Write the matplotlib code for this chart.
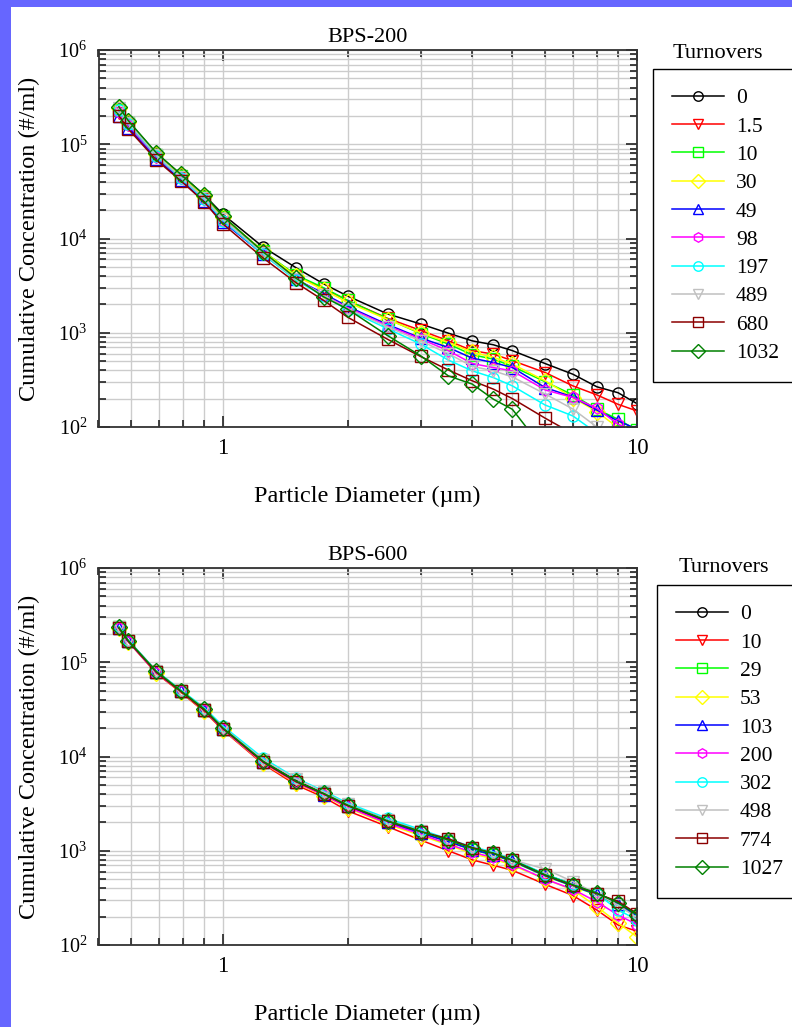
import math
import matplotlib
matplotlib.use("Agg")
import matplotlib.pyplot as plt
from matplotlib.patches import Rectangle
from matplotlib.ticker import LogLocator, FixedLocator, FuncFormatter, NullFormatter

plt.rcParams["font.family"] = ["Liberation Serif", "DejaVu Serif"]
plt.rcParams["mathtext.fontset"] = "custom"
plt.rcParams["mathtext.rm"] = "Liberation Serif"
plt.rcParams["mathtext.it"] = "Liberation Serif:italic"

# Particle size channels (um)
diameters = [0.56, 0.59, 0.69, 0.79, 0.9, 1.0, 1.25, 1.5, 1.75, 2.0, 2.5,
             3.0, 3.5, 4.0, 4.5, 5.0, 6.0, 7.0, 8.0, 9.0, 10.0]

# BPS-200 cumulative concentrations (#/ml) by turnover count
bps200_labels = ["0", "1.5", "10", "30", "49", "98", "197", "489", "680", "1032"]
bps200_t0 = [2.35e5, 1.75e5, 8.0e4, 4.8e4, 2.9e4, 1.8e4, 8.1e3, 4.9e3, 3.3e3, 2.45e3, 1.58e3,
             1.24e3, 990, 820, 745, 646, 471, 363, 267, 231, 177]
bps200_t1_5 = [2.15e5, 1.6e5, 7.3e4, 4.4e4, 2.65e4, 1.62e4, 7.2e3, 4.0e3, 2.95e3, 2.2e3, 1.42e3,
               1.06e3, 822, 646, 593, 506, 378, 273, 219, 174, 148]
bps200_t10 = [2.3e5, 1.68e5, 7.7e4, 4.6e4, 2.75e4, 1.68e4, 7.3e3, 4.1e3, 3.0e3, 2.2e3, 1.4e3,
              980, 760, 583, 525, 440, 302, 219, 154, 121, 92]
bps200_t30 = [2.4e5, 1.72e5, 7.9e4, 4.7e4, 2.8e4, 1.7e4, 7.3e3, 4.0e3, 2.85e3, 2.1e3, 1.38e3,
              1.0e3, 790, 620, 550, 465, 309, 204, 146, 98, 70]
bps200_t49 = [2.0e5, 1.5e5, 7.0e4, 4.2e4, 2.5e4, 1.5e4, 6.8e3, 3.7e3, 2.6e3, 1.9e3, 1.22e3,
              880, 698, 537, 483, 427, 262, 208, 151, 116, 95]
bps200_t98 = [2.2e5, 1.6e5, 7.4e4, 4.4e4, 2.6e4, 1.55e4, 6.9e3, 3.7e3, 2.5e3, 1.85e3, 1.18e3,
              860, 646, 471, 427, 394, 247, 206, 158, 107, 88]
bps200_t197 = [2.3e5, 1.65e5, 7.5e4, 4.4e4, 2.6e4, 1.55e4, 6.8e3, 3.6e3, 2.45e3, 1.75e3, 1.1e3,
               760, 513, 394, 334, 273, 171, 131, 86, 60, 42]
bps200_t489 = [2.4e5, 1.7e5, 7.7e4, 4.5e4, 2.7e4, 1.6e4, 7.0e3, 3.7e3, 2.5e3, 1.8e3, 1.15e3,
               820, 600, 440, 394, 340, 224, 155, 100, 75, 55]
bps200_t680 = [2.0e5, 1.45e5, 6.8e4, 4.1e4, 2.45e4, 1.42e4, 6.2e3, 3.4e3, 2.2e3, 1.46e3, 850,
               560, 403, 309, 252, 200, 124, 85, 62, 45, 33]
bps200_t1032 = [2.5e5, 1.78e5, 8.1e4, 4.8e4, 2.9e4, 1.72e4, 7.2e3, 3.8e3, 2.4e3, 1.78e3, 930,
                570, 349, 285, 197, 154, 55, 35, 25, 18, 12]

# BPS-600 cumulative concentrations (#/ml) by turnover count
bps600_labels = ["0", "10", "29", "53", "103", "200", "302", "498", "774", "1027"]
bps600_t0 = [2.35e5, 1.7e5, 8.0e4, 5.0e4, 3.2e4, 2.0e4, 9.0e3, 5.6e3, 4.1e3, 3.1e3, 2.1e3,
             1.62e3, 1.3e3, 1.08e3, 950, 800, 560, 440, 355, 280, 210]
bps600_t10 = [2.3e5, 1.65e5, 7.6e4, 4.8e4, 3.0e4, 1.9e4, 8.3e3, 5.0e3, 3.7e3, 2.65e3, 1.8e3,
              1.3e3, 1.0e3, 800, 700, 620, 440, 335, 235, 163, 140]
bps600_t29 = [2.35e5, 1.68e5, 7.9e4, 4.95e4, 3.15e4, 1.98e4, 8.8e3, 5.4e3, 4.0e3, 3.0e3, 2.0e3,
              1.55e3, 1.25e3, 1.02e3, 900, 770, 540, 420, 340, 265, 200]
bps600_t53 = [2.3e5, 1.66e5, 7.7e4, 4.85e4, 3.05e4, 1.92e4, 8.5e3, 5.2e3, 3.85e3, 2.85e3, 1.9e3,
              1.45e3, 1.15e3, 930, 820, 700, 500, 385, 255, 171, 122]
bps600_t103 = [2.32e5, 1.67e5, 7.8e4, 4.95e4, 3.1e4, 1.95e4, 8.7e3, 5.4e3, 3.95e3, 2.95e3, 2.0e3,
               1.55e3, 1.25e3, 1.03e3, 910, 780, 545, 425, 345, 270, 205]
bps600_t200 = [2.3e5, 1.66e5, 7.7e4, 4.9e4, 3.1e4, 1.94e4, 8.6e3, 5.3e3, 3.9e3, 2.9e3, 1.95e3,
               1.5e3, 1.18e3, 960, 850, 720, 500, 390, 287, 208, 165]
bps600_t302 = [2.4e5, 1.72e5, 8.1e4, 5.1e4, 3.3e4, 2.1e4, 9.6e3, 5.9e3, 4.3e3, 3.2e3, 2.2e3,
               1.68e3, 1.33e3, 1.1e3, 970, 810, 565, 440, 350, 236, 185]
bps600_t498 = [2.35e5, 1.7e5, 8.0e4, 5.0e4, 3.2e4, 2.02e4, 9.2e3, 5.8e3, 4.2e3, 3.1e3, 2.1e3,
               1.62e3, 1.3e3, 1.07e3, 950, 800, 640, 470, 350, 265, 195]
bps600_t774 = [2.3e5, 1.67e5, 7.8e4, 4.9e4, 3.1e4, 1.97e4, 8.7e3, 5.4e3, 4.0e3, 3.0e3, 2.05e3,
               1.6e3, 1.34e3, 1.08e3, 940, 790, 550, 430, 350, 290, 215]
bps600_t1027 = [2.35e5, 1.7e5, 8.0e4, 5.0e4, 3.2e4, 2.0e4, 8.9e3, 5.5e3, 4.05e3, 3.05e3, 2.07e3,
                1.6e3, 1.3e3, 1.06e3, 940, 795, 555, 435, 355, 280, 210]

colors = ["#000000", "#FF0000", "#00FF00", "#FFFF00", "#0000FF",
          "#FF00FF", "#00FFFF", "#C0C0C0", "#8B0000", "#008000"]
markers = ["o", "v", "s", "D", "^", "h", "o", "v", "s", "D"]

W, H = 792, 1027
fig = plt.figure(figsize=(W / 100, H / 100), dpi=100, facecolor="#6666FF")
fig.add_artist(Rectangle((11 / W, 0), 1 - 11 / W, 1 - 7 / H, transform=fig.transFigure,
                         facecolor="white", edgecolor="none", zorder=-10))


def px_box(left, top, right, bottom):
    return [left / W, 1 - bottom / H, (right - left) / W, (bottom - top) / H]


def log_label(v, pos):
    if v <= 0:
        return ""
    e = int(round(math.log10(v)))
    return r"$\mathregular{10^{%d}}$" % e


def draw_panel(box, title, labels, series, leg_left, leg_top, title_x, title_y):
    ax = fig.add_axes(box)
    for i, (lab, vals) in enumerate(zip(labels, series)):
        ax.plot(diameters, vals, color=colors[i], marker=markers[i], markersize=8,
                markerfacecolor="none", markeredgecolor=colors[i], markeredgewidth=1.0,
                linewidth=1.1, label=lab, clip_on=True)
    ax.set_xscale("log")
    ax.set_yscale("log")
    ax.set_xlim(0.5, 10)
    ax.set_ylim(1e2, 1e6)

    ax.xaxis.set_major_locator(FixedLocator([1, 10]))
    ax.xaxis.set_minor_locator(FixedLocator([0.5, 0.6, 0.7, 0.8, 0.9, 2, 3, 4, 5, 6, 7, 8, 9]))
    ax.xaxis.set_major_formatter(FuncFormatter(lambda v, p: "%g" % v))
    ax.xaxis.set_minor_formatter(NullFormatter())
    ax.yaxis.set_major_locator(LogLocator(base=10, numticks=10))
    ax.yaxis.set_minor_locator(LogLocator(base=10, subs=range(2, 10), numticks=20))
    ax.yaxis.set_major_formatter(FuncFormatter(log_label))
    ax.yaxis.set_minor_formatter(NullFormatter())

    ax.grid(True, which="both", color="#CCCCCC", linewidth=1.0)
    ax.set_axisbelow(True)
    ax.tick_params(which="both", direction="in", top=True, right=True,
                   width=1.2, color="#222222")
    ax.tick_params(axis="x", labelsize=16.5)
    ax.tick_params(axis="y", labelsize=14.5)
    ax.tick_params(which="major", length=8, pad=8)
    ax.tick_params(which="minor", length=5)
    for sp in ax.spines.values():
        sp.set_color("#333333")
        sp.set_linewidth(1.3)

    ax.set_title(title, fontsize=16, pad=6)
    ax.set_xlabel("Particle Diameter (\u00b5m)", fontsize=17.5, labelpad=19)
    ax.set_ylabel("Cumulative Concentration (#/ml)", fontsize=17.5, labelpad=13)

    leg = ax.legend(loc="upper left", bbox_to_anchor=(leg_left / W, 1 - leg_top / H),
                    bbox_transform=fig.transFigure, fontsize=15.5, frameon=True,
                    fancybox=False, framealpha=1, edgecolor="#000000",
                    numpoints=1, handlelength=2.4, handletextpad=0.55,
                    labelspacing=0.382, borderpad=0.9, borderaxespad=0,
                    markerscale=0.85)
    leg.get_frame().set_linewidth(1.0)
    fig.text(title_x / W, 1 - title_y / H, "Turnovers", fontsize=16,
             ha="center", va="center")
    return ax


top_series = [bps200_t0, bps200_t1_5, bps200_t10, bps200_t30, bps200_t49,
              bps200_t98, bps200_t197, bps200_t489, bps200_t680, bps200_t1032]
bottom_series = [bps600_t0, bps600_t10, bps600_t29, bps600_t53, bps600_t103,
                 bps600_t200, bps600_t302, bps600_t498, bps600_t774, bps600_t1027]

draw_panel(px_box(98.5, 50, 637, 427), "BPS-200", bps200_labels, top_series,
           653, 69, 718, 53)
draw_panel(px_box(98.5, 568, 637, 945), "BPS-600", bps600_labels, bottom_series,
           657, 585, 724, 567)

fig.savefig("out.png", dpi=100, facecolor=fig.get_facecolor())
